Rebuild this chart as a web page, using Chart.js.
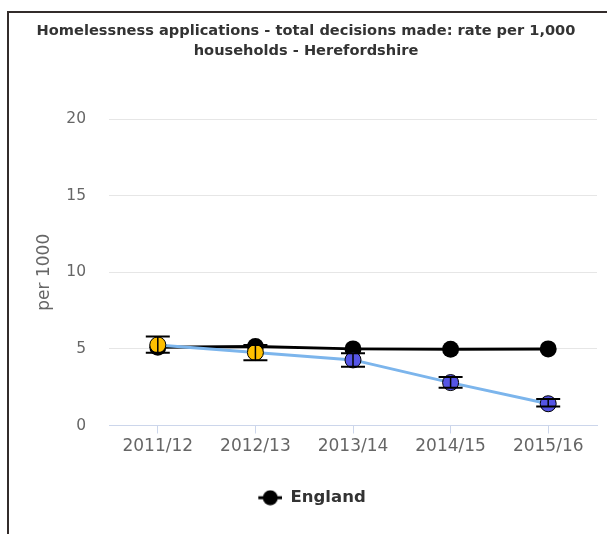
<!DOCTYPE html>
<html>
<head>
<meta charset="utf-8">
<script src="https://cdn.jsdelivr.net/npm/chart.js@4/dist/chart.umd.min.js"></script>
<style>
html,body{margin:0;padding:0;background:#fff;overflow:hidden;width:607px;height:534px;}
#frame{position:absolute;left:7px;top:11px;width:700px;height:600px;border-top:2px solid #332c2b;border-left:2px solid #332c2b;}
#c{position:absolute;left:0;top:0;}
</style>
</head>
<body>
<div id="frame"></div>
<canvas id="c" width="607" height="534"></canvas>
<script>
const categories = ["2011/12", "2012/13", "2013/14", "2014/15", "2015/16"];
const englandValues = [5.1, 5.15, 5.0, 4.98, 5.0];
const herefordValues = [5.26, 4.76, 4.28, 2.8, 1.42];
const herefordLower = [4.74, 4.26, 3.84, 2.47, 1.24];
const herefordUpper = [5.8, 5.26, 4.72, 3.17, 1.73];
const herefordColors = ["#ffc000", "#ffc000", "#5555e6", "#5555e6", "#5555e6"];
const yTicks = [0, 5, 10, 15, 20];

const legendIcon = document.createElement('canvas');
legendIcon.width = 36; legendIcon.height = 16;
(function(){
  const g = legendIcon.getContext('2d');
  g.strokeStyle = '#000'; g.lineWidth = 3;
  g.beginPath(); g.moveTo(12, 8); g.lineTo(36, 8); g.stroke();
  g.fillStyle = '#000';
  g.beginPath(); g.arc(24, 8, 7.5, 0, Math.PI * 2); g.fill();
})();

const errorBars = {
  id: 'errorBars',
  afterDatasetsDraw(chart) {
    const xs = chart.scales.x, ys = chart.scales.y;
    const ctx = chart.ctx;
    ctx.save();
    ctx.strokeStyle = '#000';
    for (let i = 0; i < categories.length; i++) {
      const x = xs.getPixelForValue(i);
      const yl = ys.getPixelForValue(herefordLower[i]);
      const yu = ys.getPixelForValue(herefordUpper[i]);
      ctx.lineWidth = 1.5;
      ctx.beginPath(); ctx.moveTo(x, yu); ctx.lineTo(x, yl); ctx.stroke();
      ctx.lineWidth = 2;
      ctx.beginPath();
      ctx.moveTo(x - 12, yu); ctx.lineTo(x + 12, yu);
      ctx.moveTo(x - 12, yl); ctx.lineTo(x + 12, yl);
      ctx.stroke();
    }
    ctx.restore();
  }
};

new Chart(document.getElementById('c'), {
  type: 'line',
  data: {
    labels: categories,
    datasets: [
      {
        label: 'Herefordshire',
        data: herefordValues,
        borderColor: '#7cb5ec',
        borderWidth: 3,
        pointRadius: 8,
        pointBackgroundColor: herefordColors,
        pointBorderColor: '#000',
        pointBorderWidth: 1,
        tension: 0,
        order: 0
      },
      {
        label: 'England',
        data: englandValues,
        borderColor: '#000',
        borderWidth: 3,
        pointRadius: 8.5,
        pointBackgroundColor: '#000',
        pointBorderColor: '#000',
        pointBorderWidth: 0,
        tension: 0,
        order: 1
      }
    ]
  },
  options: {
    responsive: false,
    animation: false,
    devicePixelRatio: 1,
    layout: { padding: { left: 15, right: 10, top: 0, bottom: 18 } },
    plugins: {
      tooltip: { enabled: false },
      title: {
        display: true,
        text: ["Homelessness applications - total decisions made: rate per 1,000", "households - Herefordshire"],
        color: '#333',
        font: { family: 'DejaVu Sans', size: 14.6, weight: 'bold', lineHeight: '20px' },
        padding: { top: 21, bottom: 58 }
      },
      legend: {
        position: 'bottom',
        labels: {
          usePointStyle: true,
          pointStyleWidth: 36,
          color: '#333',
          font: { family: 'DejaVu Sans', size: 16.5, weight: 'bold' },
          padding: 10,
          filter: (item) => item.text === 'England',
          generateLabels(chart) {
            const items = Chart.defaults.plugins.legend.labels.generateLabels(chart);
            items.forEach(it => { it.pointStyle = legendIcon; });
            return items;
          }
        }
      }
    },
    scales: {
      x: {
        offset: true,
        afterFit(s) { s.height = 54; },
        grid: { drawOnChartArea: false, drawTicks: true, tickLength: 8, color: '#ccd6eb' },
        border: { color: '#ccd6eb', width: 1 },
        ticks: { color: '#666', font: { family: 'DejaVu Sans', size: 17 }, padding: 3, maxRotation: 0 }
      },
      y: {
        min: 0, max: 20,
        afterBuildTicks(s) { s.ticks = yTicks.map(v => ({ value: v })); },
        afterFit(s) { s.width = 94; },
        grid: { color: '#e6e6e6', drawTicks: false },
        border: { display: false },
        ticks: { color: '#666', font: { family: 'DejaVu Sans', size: 15.5 }, padding: 23 },
        title: {
          display: true, text: 'per 1000', color: '#666',
          font: { family: 'DejaVu Sans', size: 17 }, padding: { top: 19 }
        }
      }
    }
  },
  plugins: [errorBars]
});
</script>
</body>
</html>
